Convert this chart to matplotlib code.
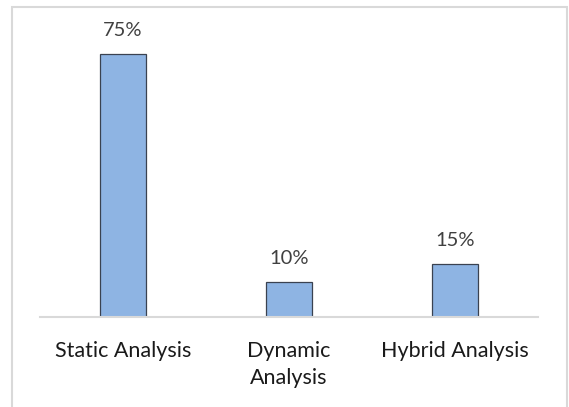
import matplotlib.pyplot as plt
from matplotlib.patches import Rectangle

# data
categories = ['Static Analysis', 'Dynamic\nAnalysis', 'Hybrid Analysis']
values = [75, 10, 15]
labels = ['75%', '10%', '15%']

plt.rcParams['font.family'] = ['Lato', 'DejaVu Sans']

fig = plt.figure(figsize=(5.69, 4.07), dpi=100)
ax = fig.add_axes([40 / 569, 90 / 407, 498 / 569, 280.6 / 407])

x = range(len(categories))
bars = ax.bar(x, values, width=0.277, color='#8EB4E3', edgecolor='#3A4250', linewidth=0.9)

for b, lab in zip(bars, labels):
    ax.annotate(lab, (b.get_x() + b.get_width() / 2, b.get_height()),
                xytext=(0, 17), textcoords='offset points',
                ha='center', va='center', fontsize=14.5, color='#404040',
                annotation_clip=False)

ax.set_xlim(-0.5, 2.5)
ax.set_ylim(0, 80)
ax.set_xticks(list(x))
ax.set_xticklabels(categories, fontsize=15.5, color='#1a1a1a', linespacing=1.45)
ax.tick_params(axis='x', length=0, pad=17)
ax.set_yticks([])
for s in ['top', 'right', 'left']:
    ax.spines[s].set_visible(False)
ax.spines['bottom'].set_color('#D9D9D9')
ax.spines['bottom'].set_linewidth(1.5)

# chart border
fig.patches.append(Rectangle((12 / 569, -0.05), 555 / 569, 1.05 - 7 / 407,
                             transform=fig.transFigure, fill=False,
                             edgecolor='#D9D9D9', linewidth=1.5))

fig.savefig('out.png', dpi=100)
